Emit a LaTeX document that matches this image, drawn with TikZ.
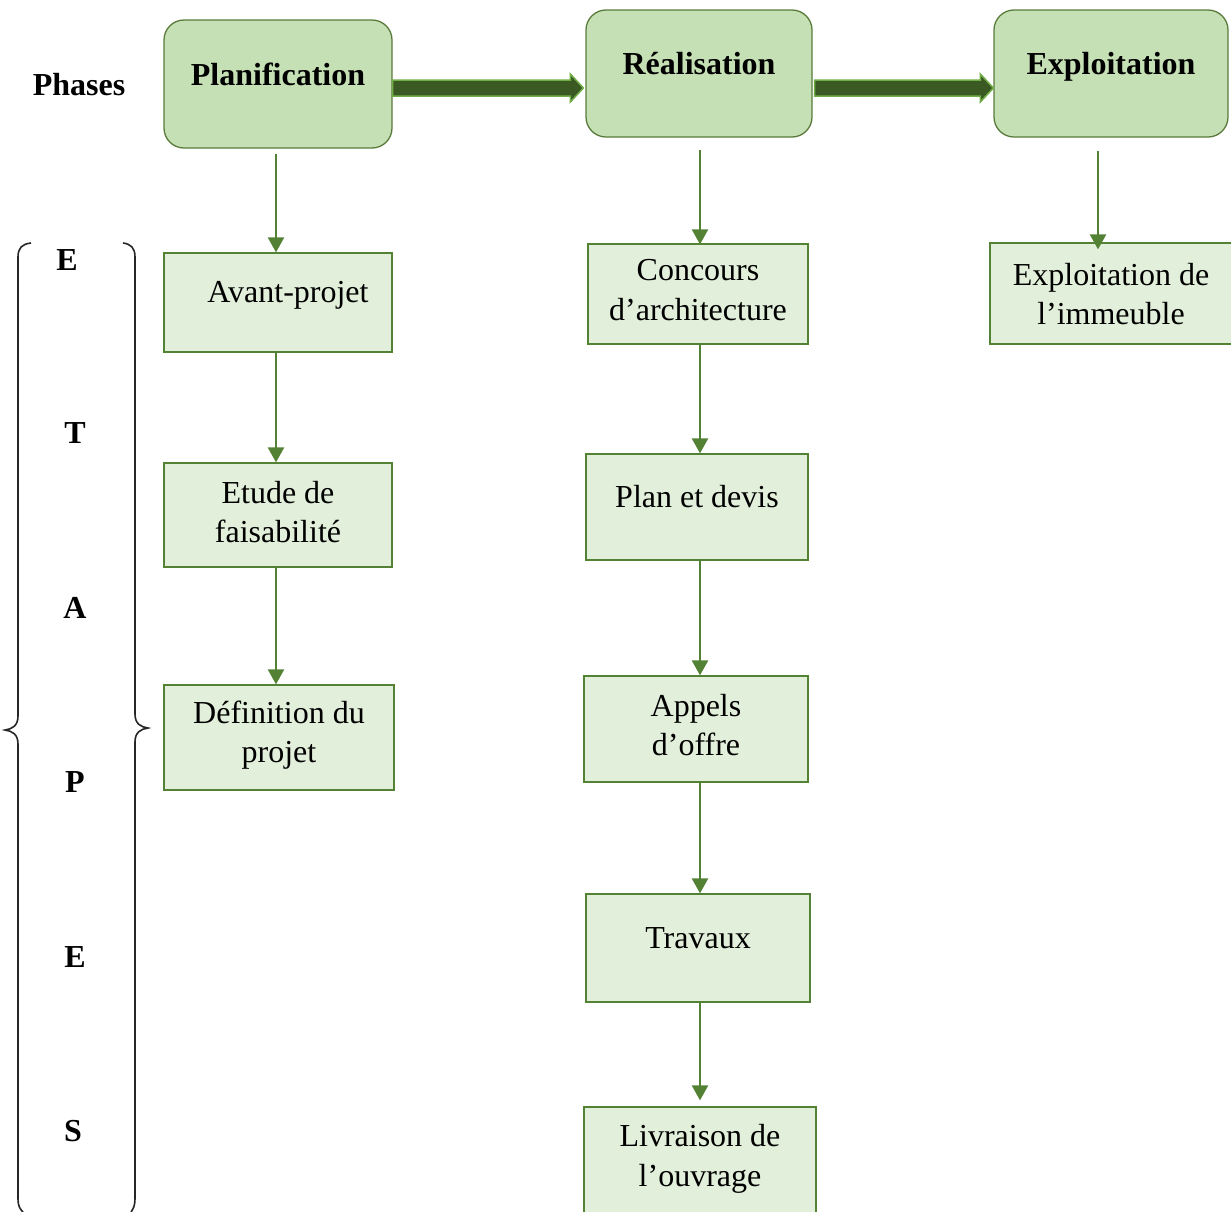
\documentclass[tikz,border=0pt]{standalone}
\usepackage{fontspec}
\setmainfont{Liberation Serif}
\usetikzlibrary{arrows.meta,calc}
\definecolor{phfill}{HTML}{C5E0B4}
\definecolor{phdraw}{HTML}{5B7B3C}
\definecolor{bxfill}{HTML}{E2EFDA}
\definecolor{bxdraw}{HTML}{548235}
\definecolor{fatin}{HTML}{3B5A23}
\definecolor{fatout}{HTML}{70AD47}
\tikzset{
  phasebox/.style={draw=phdraw, fill=phfill, line width=1.3pt, rounded corners=20pt, inner sep=0pt},
  stepbox/.style={draw=bxdraw, fill=bxfill, line width=1.3pt, inner sep=0pt},
  txt/.style={font=\fontsize{32}{39.5}\selectfont, align=center, inner sep=0pt},
  btxt/.style={font=\fontsize{32}{39.5}\selectfont\bfseries, align=center, inner sep=0pt},
  thin arrow/.style={draw=bxdraw, line width=2.6pt, -{Triangle[length=15pt,width=16pt]}},
  fat arrow/.style={fill=fatin, draw=fatout, line width=1.5pt, line join=miter},
  bracepath/.style={draw=black!85, line width=1.6pt}
}
\begin{document}
\begin{tikzpicture}[x=1pt,y=-1pt]
\useasboundingbox (0,0) rectangle (1231,1211);
% phase boxes
\node[phasebox, minimum width=228pt, minimum height=128pt] (P) at (278,84) {};
\node[phasebox, minimum width=226pt, minimum height=127pt] (R) at (699,73.5) {};
\node[phasebox, minimum width=234pt, minimum height=127pt] (X) at (1111,73.5) {};
\node[btxt] (Pt) at (278,74) {Planification};
\node[btxt] (Rt) at (699,64) {Réalisation};
\node[btxt] (Xt) at (1111,67) {Exploitation};
\node[btxt] (ph) at (79,85) {Phases};
% fat arrows
\coordinate (a1s) at (P.east |- 0,88);
\coordinate (a1e) at ($(R.west |- 0,88)+(-2,0)$);
\coordinate (a2s) at ($(R.east |- 0,88)+(2,0)$);
\coordinate (a2e) at (X.west |- 0,88);
\draw[fat arrow] ($(a1s)+(0,-8)$) -- ($(a1e)+(-13,-8)$) -- ($(a1e)+(-13,-14)$) -- (a1e) -- ($(a1e)+(-13,14)$) -- ($(a1e)+(-13,8)$) -- ($(a1s)+(0,8)$) -- cycle;
\draw[fat arrow] ($(a2s)+(0,-8)$) -- ($(a2e)+(-13,-8)$) -- ($(a2e)+(-13,-14)$) -- (a2e) -- ($(a2e)+(-13,14)$) -- ($(a2e)+(-13,8)$) -- ($(a2s)+(0,8)$) -- cycle;
% step boxes
\node[stepbox, minimum width=228pt, minimum height=99pt] (AP) at (278,302.5) {};
\node[stepbox, minimum width=228pt, minimum height=104pt] (EF) at (278,515) {};
\node[stepbox, minimum width=230pt, minimum height=105pt] (DP) at (279,737.5) {};
\node[stepbox, minimum width=220pt, minimum height=100pt] (CA) at (698,294) {};
\node[stepbox, minimum width=222pt, minimum height=106pt] (PD) at (697,507) {};
\node[stepbox, minimum width=224pt, minimum height=106pt] (AO) at (696,729) {};
\node[stepbox, minimum width=224pt, minimum height=108pt] (TR) at (698,948) {};
\node[stepbox, minimum width=232pt, minimum height=130pt] (LO) at (700,1172) {};
\node[stepbox, minimum width=250pt, minimum height=101pt] (EI) at (1115,293.5) {};
\node[txt] (APt) at (288,295) {Avant-projet};
\node[txt] (EFt) at (278,512) {Etude de\\faisabilité};
\node[txt] (DPt) at (279,735) {Définition du\\projet};
\node[txt] (CAt) at (698,290) {Concours\\d’architecture};
\node[txt] (PDt) at (697,497) {Plan et devis};
\node[txt] (AOt) at (696,725) {Appels\\d’offre};
\node[txt] (TRt) at (698,938) {Travaux};
\node[txt] (LOt) at (700,1159) {Livraison de\\l’ouvrage};
\node[txt] (EIt) at (1111,294) {Exploitation de\\l’immeuble};
% thin arrows
\coordinate (cL) at (276,0);
\coordinate (cM) at (700,0);
\coordinate (cR) at (1098,0);
\draw[thin arrow, shorten <=5pt] (P.south -| cL) -- (AP.north -| cL);
\draw[thin arrow] (AP.south -| cL) -- (EF.north -| cL);
\draw[thin arrow] (EF.south -| cL) -- (DP.north -| cL);
\draw[thin arrow, shorten <=12pt, shorten >=-1pt] (R.south -| cM) -- (CA.north -| cM);
\draw[thin arrow] (CA.south -| cM) -- (PD.north -| cM);
\draw[thin arrow] (PD.south -| cM) -- (AO.north -| cM);
\draw[thin arrow] (AO.south -| cM) -- (TR.north -| cM);
\draw[thin arrow, shorten >=6pt] (TR.south -| cM) -- (LO.north -| cM);
\draw[thin arrow, shorten <=13pt, shorten >=-7pt] (X.south -| cR) -- (EI.north -| cR);
% letters
\node[btxt] (l1) at (67,260) {E};
\node[btxt] (l2) at (75,433) {T};
\node[btxt] (l3) at (75,608) {A};
\node[btxt] (l4) at (75,782) {P};
\node[btxt] (l5) at (75,957) {E};
\node[btxt] (l6) at (73,1131) {S};
% braces
\draw[bracepath] (31,243) .. controls (22,244) and (18,248) .. (18,257) -- (18,716) .. controls (18,726) and (12,729) .. (5,730) .. controls (12,731) and (18,734) .. (18,744) -- (18,1199) .. controls (18,1206) and (20,1209) .. (23,1212);
\draw[bracepath] (123,243) .. controls (131,244) and (135,248) .. (135,257) -- (135,714) .. controls (135,724) and (141,727) .. (148,728) .. controls (141,729) and (135,732) .. (135,742) -- (135,1199) .. controls (135,1206) and (133,1209) .. (131,1212);
\end{tikzpicture}
\end{document}
